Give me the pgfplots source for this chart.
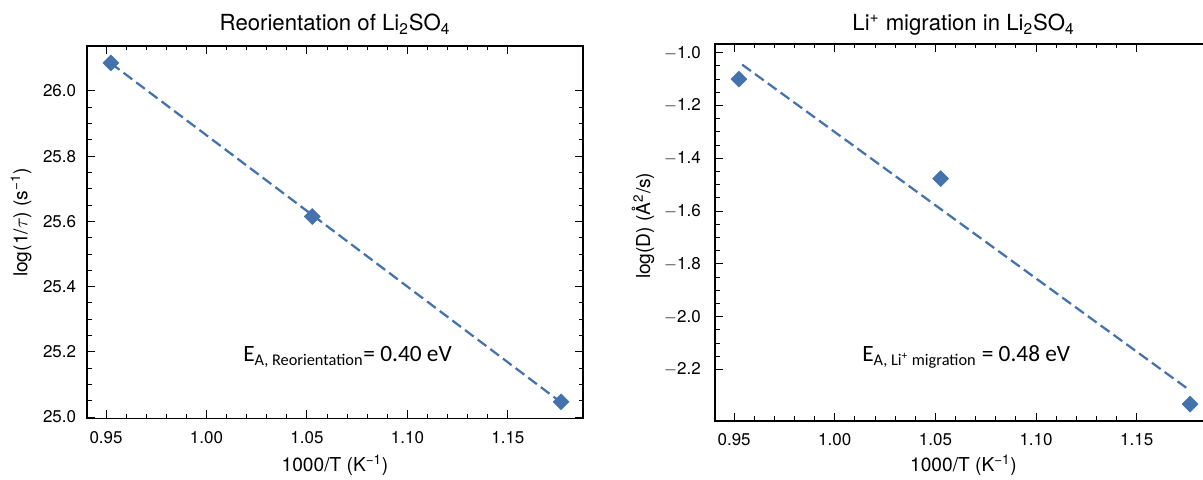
\documentclass[border=0pt]{standalone}
\usepackage{fontspec}
\setmainfont{TeX Gyre Heros}
\newfontfamily\carlito{Carlito}
\usepackage{pgfplots}
\pgfplotsset{compat=1.18}
\definecolor{steel}{RGB}{68,114,173}
\pgfplotsset{
  myax/.style={
    scale only axis, anchor=south west,
    axis line style={line width=0.9pt},
    every tick/.style={black, line width=0.6pt},
    tick align=inside,
    major tick length=4.8pt, minor tick length=2.7pt,
    minor x tick num=4, minor y tick num=3,
    xtick={0.95,1.00,1.05,1.10,1.15},
    xticklabels={0.95,1.00,1.05,1.10,1.15},
    xmin=0.9405, xmax=1.1874,
    tick label style={font=\fontsize{10.2}{12}\selectfont},
    xticklabel style={yshift=-4pt},
    /pgf/number format/assume math mode=true,
  },
  fitline/.style={steel, line width=1.35pt, dash pattern=on 6.5pt off 3pt},
  pts/.style={only marks, mark=square*, mark size=3.4pt,
    mark options={rotate=45, fill=steel, draw=steel, line width=0.3pt, solid}},
}
\begin{document}
\begin{tikzpicture}
\useasboundingbox (0pt,0pt) rectangle (721.8pt,288pt);
\clip (0pt,0pt) rectangle (721.8pt,288pt);
% left panel
\begin{axis}[myax, at={(52.2pt,36.9pt)}, width=297.6pt, height=223.5pt,
  ymin=24.9957, ymax=26.138,
  ytick={25.0,25.2,25.4,25.6,25.8,26.0},
  yticklabels={25.0,25.2,25.4,25.6,25.8,26.0},
  yticklabel style={xshift=-3pt}]
\addplot[fitline] coordinates {(0.9524,26.085) (1.1765,25.045)};
\addplot[pts] coordinates {(0.9524,26.086) (1.0526,25.615) (1.1765,25.047)};
\end{axis}
% right panel
\begin{axis}[myax, at={(429pt,35.4pt)}, width=298.2pt, height=226.2pt,
  ymin=-2.395, ymax=-0.967,
  ytick={-2.2,-2.0,-1.8,-1.6,-1.4,-1.2,-1.0},
  yticklabels={$-$2.2,$-$2.0,$-$1.8,$-$1.6,$-$1.4,$-$1.2,$-$1.0},
  yticklabel style={xshift=-5pt}]
\addplot[fitline] coordinates {(0.9540,-1.0453) (1.1765,-2.2795)};
\addplot[pts] coordinates {(0.9524,-1.100) (1.0526,-1.477) (1.1765,-2.331)};
\end{axis}
% titles
\node[anchor=base, font=\fontsize{13.3}{15}\selectfont] at (201pt,269.4pt) {Reorientation of Li\textsubscript{2}SO\textsubscript{4}};
\node[anchor=base, font=\fontsize{13.3}{15}\selectfont] at (578.1pt,269.4pt) {Li\textsuperscript{+} migration in Li\textsubscript{2}SO\textsubscript{4}};
% axis labels
\node[font=\fontsize{11.5}{13}\selectfont] at (201pt,9pt) {1000/T (K\textsuperscript{−1})};
\node[font=\fontsize{11.5}{13}\selectfont] at (578.1pt,9pt) {1000/T (K\textsuperscript{−1})};
\node[rotate=90, font=\fontsize{11.5}{13}\selectfont] at (12.6pt,154.5pt) {log(1/$\tau$) (s\textsuperscript{−1})};
\node[rotate=90, font=\fontsize{11.5}{13}\selectfont] at (385.8pt,152.5pt) {log(D) (Å\textsuperscript{2}/s)};
% annotations
\node[anchor=base west, inner sep=0pt, font=\carlito\fontsize{14}{16}\selectfont] at (145.8pt,71pt) {E\textsubscript{A, Reorientation}= 0.40 eV};
\node[anchor=base west, inner sep=0pt, font=\carlito\fontsize{14}{16}\selectfont] at (517.2pt,71pt) {E\textsubscript{A, Li\textsuperscript{+} migration} = 0.48 eV};
\end{tikzpicture}
\end{document}
